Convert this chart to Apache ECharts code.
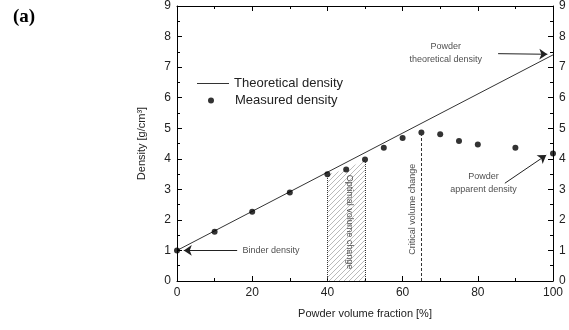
<!DOCTYPE html>
<html>
<head>
<meta charset="utf-8">
<script src="https://cdn.jsdelivr.net/npm/echarts@6/dist/echarts.min.js"></script>
<style>
  html, body { margin: 0; padding: 0; background: #fff; }
  #chart { width: 569px; height: 330px; }
</style>
</head>
<body>
<div id="chart"></div>
<script>
// theoretical density line (binder -> powder)
var theoX = [0, 100];
var theoY = [1.0, 7.4];
// measured density points
var measX = [0, 10, 20, 30, 40, 45, 50, 55, 60, 65, 70, 75, 80, 90, 100];
var measY = [1.0, 1.61, 2.27, 2.9, 3.49, 3.65, 3.98, 4.36, 4.68, 4.86, 4.8, 4.58, 4.47, 4.36, 4.17];
// optimal range (hatched) and critical point
var optX = [40, 45, 50];
var optY = [3.49, 3.65, 3.98];
var critX = 65;
var critY = 4.86;
var xTicks = [0, 20, 40, 60, 80, 100];
var yTicks = [0, 1, 2, 3, 4, 5, 6, 7, 8, 9];

var FONT = 'Liberation Sans';

// hatch pattern
var pat = document.createElement('canvas');
pat.width = 5; pat.height = 5;
var pc = pat.getContext('2d');
pc.strokeStyle = '#a8a8a8';
pc.lineWidth = 0.8;
pc.beginPath();
pc.moveTo(0, 5); pc.lineTo(5, 0);
pc.moveTo(-1, 1); pc.lineTo(1, -1);
pc.moveTo(4, 6); pc.lineTo(6, 4);
pc.stroke();

var chart = echarts.init(document.getElementById('chart'));

function pairs(xs, ys) {
  return xs.map(function (x, i) { return [x, ys[i]]; });
}

function xAxisCfg(pos, showLabel) {
  return {
    type: 'value', position: pos, min: xTicks[0], max: xTicks[xTicks.length - 1], interval: 20,
    axisLine: { show: true, onZero: false, lineStyle: { color: '#000', width: 1 } },
    axisTick: { show: true, inside: true, length: 5, lineStyle: { color: '#000' } },
    minorTick: { show: true, splitNumber: 2, length: 3, lineStyle: { color: '#000' } },
    splitLine: { show: false },
    axisLabel: { show: showLabel, color: '#222', fontFamily: FONT, fontSize: 12, margin: 6 }
  };
}
function yAxisCfg(pos, name) {
  return {
    type: 'value', position: pos, min: yTicks[0], max: yTicks[yTicks.length - 1], interval: 1,
    name: name, nameLocation: 'middle', nameGap: 30,
    nameTextStyle: { color: '#222', fontFamily: FONT, fontSize: 11 },
    axisLine: { show: true, onZero: false, lineStyle: { color: '#000', width: 1 } },
    axisTick: { show: true, inside: true, length: 5, lineStyle: { color: '#000' } },
    minorTick: { show: true, splitNumber: 2, length: 3, lineStyle: { color: '#000' } },
    splitLine: { show: false },
    axisLabel: { show: true, color: '#222', fontFamily: FONT, fontSize: 12, margin: 6 }
  };
}

var noteStyle = { color: '#222', fontFamily: FONT, fontSize: 9, lineHeight: 13 };

var option = {
  animation: false,
  backgroundColor: '#fff',
  grid: { left: 177, right: 16, top: 6, bottom: 49 },
  title: {
    text: '(a)', left: 8, top: 3,
    textStyle: { fontFamily: 'Liberation Serif', fontWeight: 'bold', fontSize: 19, color: '#000' }
  },
  legend: [
    {
      data: [{ name: 'Theoretical density', icon: 'rect' }], left: 192, top: 72, itemWidth: 32, itemHeight: 1,
      itemStyle: { color: '#333' },
      textStyle: { fontFamily: FONT, fontSize: 13, color: '#222' }, selectedMode: false
    },
    {
      data: [{ name: 'Measured density', icon: 'circle' }], left: 203, top: 89, itemWidth: 32, itemHeight: 6,
      textStyle: { fontFamily: FONT, fontSize: 13, color: '#222', padding: [0, 0, 0, 3] }, selectedMode: false
    }
  ],
  xAxis: [
    Object.assign(xAxisCfg('bottom', true), {
      name: 'Powder volume fraction [%]', nameLocation: 'middle', nameGap: 27,
      nameTextStyle: { color: '#222', fontFamily: FONT, fontSize: 11 }
    }),
    xAxisCfg('top', false)
  ],
  yAxis: [
    yAxisCfg('left', 'Density [g/cm³]'),
    yAxisCfg('right', '')
  ],
  series: [
    {
      name: 'Optimal', type: 'line', data: pairs(optX, optY), symbol: 'none', silent: true,
      lineStyle: { width: 0 }, areaStyle: { color: { image: pat, repeat: 'repeat' }, opacity: 1 },
      z: 1,
      markLine: {
        silent: true, symbol: ['none', 'none'], label: { show: false },
        data: [
          [{ coord: [optX[0], 0], lineStyle: { type: 'dotted', color: '#333', width: 1 } }, { coord: [optX[0], optY[0]] }],
          [{ coord: [optX[2], 0], lineStyle: { type: 'dotted', color: '#333', width: 1 } }, { coord: [optX[2], optY[2]] }],
          [{ coord: [critX, 0], lineStyle: { type: [3, 2], color: '#333', width: 1 } }, { coord: [critX, critY] }]
        ]
      }
    },
    {
      name: 'Theoretical density', type: 'line', data: pairs(theoX, theoY), symbol: 'none',
      lineStyle: { color: '#333', width: 1 }, itemStyle: { color: '#333' }, z: 3
    },
    {
      name: 'Measured density', type: 'scatter', data: pairs(measX, measY), symbol: 'circle', symbolSize: 6,
      itemStyle: { color: '#000' }, z: 4
    },
    {
      name: 'notes', type: 'scatter', symbolSize: 0, silent: true, z: 5,
      label: { show: true, position: 'inside' },
      data: [
        { value: [25, 1.0], label: Object.assign({ formatter: 'Binder density' }, noteStyle) },
        { value: [71.5, 7.45], label: Object.assign({ formatter: 'Powder\ntheoretical density', align: 'center' }, noteStyle) },
        { value: [81.5, 3.2], label: Object.assign({ formatter: 'Powder\napparent density', align: 'center' }, noteStyle) },
        { value: [46, 1.93], label: Object.assign({ formatter: 'Optimal volume change', rotate: -90 }, noteStyle) },
        { value: [62.6, 2.35], label: Object.assign({ formatter: 'Critical volume change', rotate: 90 }, noteStyle) }
      ],
      markLine: {
        silent: true, symbol: ['none', 'arrow'], symbolSize: 8, label: { show: false },
        lineStyle: { color: '#222', width: 1, type: 'solid' },
        data: [
          [{ coord: [16, 1.0] }, { coord: [1.8, 1.0] }],
          [{ coord: [85.4, 7.44] }, { coord: [98.5, 7.42] }],
          [{ coord: [87.2, 3.2], lineStyle: { curveness: -0.2 } }, { coord: [98.2, 4.12] }]
        ]
      }
    }
  ]
};

chart.setOption(option);
</script>
</body>
</html>
